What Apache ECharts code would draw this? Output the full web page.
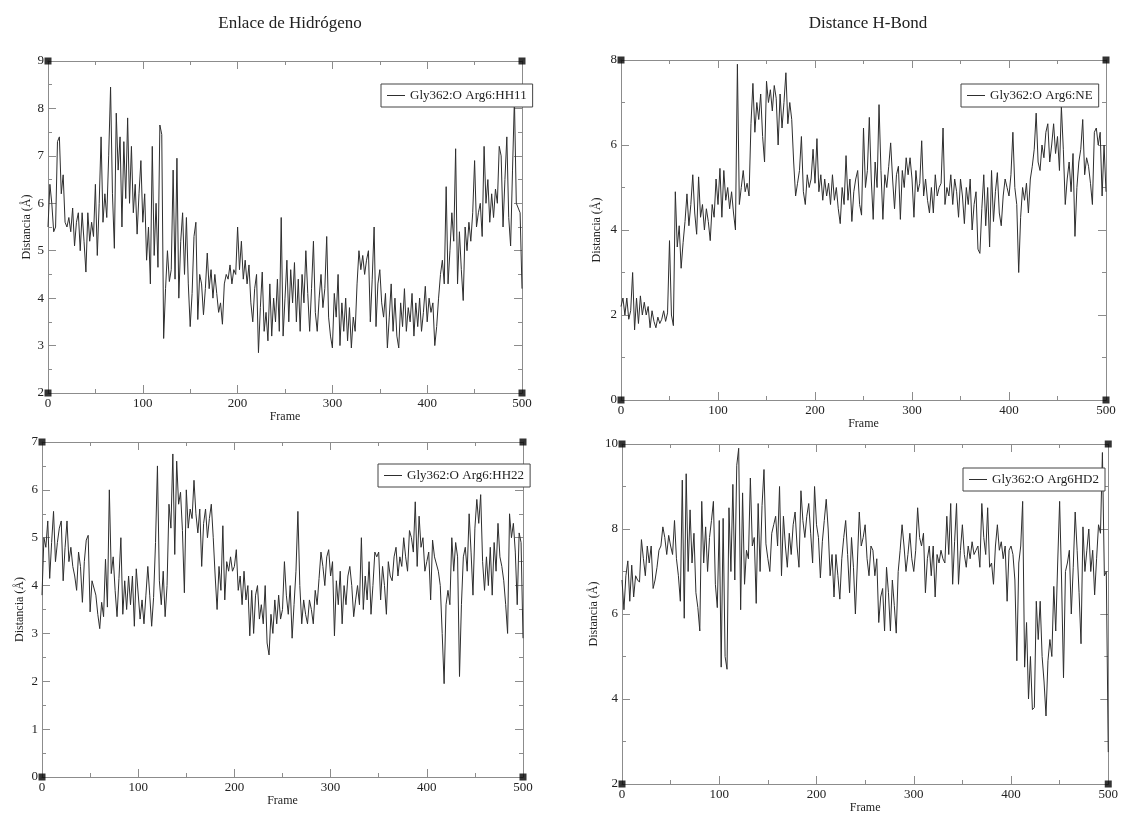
<!DOCTYPE html>
<html>
<head>
<meta charset="utf-8">
<script src="https://cdn.jsdelivr.net/npm/echarts@6/dist/echarts.min.js"></script>
<style>html,body{margin:0;padding:0;background:#fff}#c{width:1121px;height:815px}</style>
</head>
<body>
<div id="c"></div>
<script>
// ---- data (one value every 2 frames, frames 0..500) ----
const FRAME_STEP = 2;
const xTicks = [0, 100, 200, 300, 400, 500];

const hh11 = [
5.5,6.4,6.0,5.4,5.5, 7.3,7.4,6.2,6.6,5.6, 5.5,5.7,5.4,5.9,5.1, 5.6,5.8,5.0,5.8,5.2, 4.55,5.8,5.2,5.6,5.3,
6.4,4.9,6.0,7.4,5.6, 6.2,5.7,7.0,8.45,6.2, 5.05,7.9,6.7,7.4,5.5, 7.3,6.1,7.8,6.0,7.2, 5.8,6.4,5.35,6.2,6.9,
5.6,6.2,4.8,5.5,4.3, 7.2,4.9,6.0,4.65,7.65, 7.45,3.15,4.2,5.0,4.35, 4.6,6.7,4.4,6.95,4.0, 5.2,5.8,4.5,5.7,4.3,
3.4,4.1,5.3,5.6,3.55, 4.5,4.3,3.65,4.2,4.95, 4.2,4.6,4.0,4.5,4.1, 3.7,3.9,3.45,4.3,4.5, 4.4,4.7,4.3,4.6,4.5,
5.5,4.6,5.2,4.4,4.8, 4.3,4.7,3.9,3.5,4.2, 4.5,2.85,3.8,4.55,3.3, 3.7,3.1,4.3,3.2,4.0, 3.5,4.4,3.3,5.7,3.2,
4.0,4.8,3.5,4.6,3.9, 4.75,3.5,4.4,3.3,4.5, 3.9,5.0,4.1,3.3,4.2, 5.2,3.7,3.3,4.0,4.5, 3.8,4.2,5.3,3.6,3.2,
2.95,4.1,3.6,4.5,3.0, 3.9,3.3,4.0,3.1,3.8, 2.95,3.6,3.3,4.3,5.0, 4.6,4.9,4.5,4.8,5.0, 3.5,4.4,5.5,3.4,4.3,
4.6,3.9,3.6,4.1,2.95, 3.6,4.3,3.3,4.0,3.2, 2.95,3.9,3.4,4.2,3.3, 3.8,3.5,4.1,3.2,3.9, 3.4,4.0,3.3,3.7,4.25,
3.5,4.0,3.7,3.9,3.0, 3.4,4.0,4.5,4.8,4.3, 6.35,4.3,5.0,5.8,5.2, 7.15,4.3,5.4,4.6,3.95, 5.5,5.0,5.6,5.2,5.8,
6.9,5.5,5.8,6.0,5.3, 7.2,6.0,6.5,5.6,6.2, 5.7,6.3,6.0,7.2,7.0, 5.5,6.5,7.4,5.7,5.1, 6.7,8.2,6.0,5.9,5.8,
4.2];

const ne = [
2.2,2.4,2.0,2.4,1.9, 2.1,3.0,1.65,2.4,1.8, 2.45,2.0,2.3,2.0,2.2, 1.7,2.1,1.85,1.7,1.95, 1.8,1.9,2.1,1.85,2.05,
3.75,2.0,1.75,4.9,3.6, 4.1,3.1,3.7,4.2,4.85, 4.1,4.6,5.3,4.4,3.9, 5.25,4.3,4.6,4.0,4.5, 4.2,3.75,4.6,4.3,5.2,
4.6,5.45,4.3,5.4,4.7, 5.0,4.5,4.9,4.4,4.0, 7.9,4.6,5.0,5.4,4.9, 5.1,4.8,6.5,7.45,6.3, 7.0,6.6,7.2,6.2,5.6,
7.5,7.0,7.3,6.8,7.4, 7.1,6.0,7.2,6.4,7.0, 7.7,6.5,7.0,6.6,5.6, 4.8,5.1,5.4,6.2,4.9, 4.6,5.3,5.0,5.2,5.9,
5.1,6.15,4.9,5.3,4.7, 5.2,4.8,5.1,4.6,5.3, 4.7,5.0,4.5,4.15,5.0, 4.6,5.75,4.7,5.2,4.2, 4.9,5.2,5.4,4.6,4.35,
6.4,5.0,5.4,6.65,5.2, 4.25,5.6,5.0,6.95,5.4, 4.25,5.3,5.0,5.5,6.05, 5.2,4.5,5.3,5.5,4.25, 5.4,5.0,5.7,5.3,5.7,
5.2,4.3,5.4,4.9,5.1, 6.1,4.8,5.2,4.7,4.4, 5.0,4.4,5.3,4.8,5.0, 5.1,6.4,4.6,5.0,4.8, 5.3,4.6,5.2,4.9,4.3,
5.2,4.8,4.15,5.0,4.6, 5.2,4.0,4.6,4.9,3.55, 3.45,4.5,5.3,4.1,5.0, 3.6,5.4,4.2,4.9,5.35, 4.4,4.1,4.8,5.2,5.0,
4.8,5.3,6.3,5.0,4.6, 3.0,4.3,5.0,4.7,5.1, 4.4,5.2,5.5,5.9,6.75, 5.6,5.4,6.0,5.7,6.3, 6.5,5.6,6.0,6.5,5.8,
6.2,5.4,6.9,5.9,4.6, 5.2,5.6,4.9,5.8,3.85, 5.0,5.6,5.9,6.6,5.3, 5.7,5.5,5.1,4.6,6.3, 6.4,6.0,6.3,4.8,6.0,
4.9];

const hh22 = [
3.8,5.0,4.8,5.35,4.15, 4.9,5.55,4.5,4.9,5.2, 5.35,4.1,4.8,5.35,4.5, 4.8,4.4,4.2,3.9,4.7, 4.4,3.65,4.5,4.95,5.05,
3.45,4.1,4.1,3.8,3.4, 3.1,3.65,3.35,4.55,3.55, 6.0,4.25,4.6,3.9,3.35, 4.15,5.0,3.4,4.1,3.5, 4.2,3.6,4.2,3.15,4.35,
4.35,3.3,3.7,3.2,3.8, 4.4,3.8,3.15,3.75,4.9, 6.5,4.1,3.6,4.3,3.35, 4.0,5.7,5.2,6.75,4.65, 6.6,5.7,5.95,5.15,3.85,
6.0,5.2,5.6,5.4,6.2, 5.5,5.1,5.6,4.4,5.3, 5.6,5.0,5.4,5.7,5.0, 4.2,3.5,4.4,3.9,5.25, 3.7,4.5,4.3,4.6,4.3,
4.4,4.75,3.9,4.2,3.6, 4.3,3.7,4.0,2.95,3.9, 3.0,3.8,4.0,3.3,3.6, 3.2,4.0,2.8,2.55,3.4, 3.0,3.7,3.2,3.8,3.3,
3.5,4.5,3.8,3.4,4.0, 2.9,3.6,4.3,5.55,4.0, 3.2,3.7,3.4,3.2,3.7, 3.5,3.2,3.9,3.6,4.15, 4.7,4.4,4.0,4.6,4.75,
4.2,4.5,2.95,4.1,3.6, 4.3,3.2,4.0,3.6,4.2, 4.4,4.0,3.35,3.7,4.0, 3.6,5.0,3.5,4.2,3.7, 4.5,3.4,4.0,4.7,4.6,
4.7,3.7,4.4,4.0,3.4, 4.5,4.2,4.1,4.6,4.8, 4.2,4.6,4.4,5.0,4.6, 4.3,5.15,5.0,4.7,5.75, 4.4,5.45,4.8,5.0,4.3,
4.5,4.7,3.7,4.95,4.6, 4.6,4.3,4.0,3.0,1.95, 3.6,3.9,3.6,5.0,4.3, 4.9,4.6,2.1,3.6,4.6, 4.8,4.3,5.5,4.7,3.8,
5.2,5.8,5.3,5.9,4.5, 3.9,4.6,4.0,4.8,3.8, 4.9,4.3,5.3,4.6,4.4, 4.1,3.6,3.0,5.5,5.0, 5.3,4.7,3.6,5.1,4.9,
2.9];

const hd2 = [
6.8,6.1,6.9,7.25,6.3, 7.15,6.4,6.9,6.8,6.75, 7.75,7.3,6.9,7.6,7.2, 7.6,6.6,6.8,7.1,7.5, 7.6,8.05,7.8,7.4,7.85,
7.6,7.4,8.2,7.3,6.9, 6.3,9.15,5.9,9.3,7.0, 8.45,7.2,7.9,6.5,6.15, 5.6,8.65,7.2,8.05,7.0, 7.8,8.2,8.65,6.7,6.15,
8.2,4.75,8.25,5.0,4.7, 8.5,7.0,9.05,6.8,9.5, 9.9,6.1,8.85,6.7,7.5, 7.3,9.2,7.6,7.8,6.25, 8.6,7.0,8.55,9.4,7.65,
7.3,7.0,7.9,8.1,8.3, 7.6,9.0,6.9,8.3,7.6, 7.1,7.9,7.4,8.1,8.4, 7.6,7.1,8.9,8.2,7.8, 8.3,8.6,7.9,7.2,9.0,
8.1,7.8,6.85,7.7,8.2, 8.7,8.0,6.9,7.4,6.4, 7.4,6.9,6.35,7.3,7.8, 8.2,7.4,6.5,7.8,7.1, 6.0,7.2,8.4,7.6,7.8,
8.1,7.3,6.9,7.6,7.5, 6.9,7.3,5.8,6.4,6.6, 5.6,7.1,6.5,5.6,6.8, 6.2,5.55,7.0,7.5,8.1, 7.6,7.0,7.4,7.9,7.3,
7.0,7.5,8.5,7.8,7.6, 7.9,6.5,7.3,7.6,6.9, 7.6,6.4,7.4,7.2,7.5, 7.3,7.2,8.3,7.4,8.6, 6.7,7.7,8.6,6.7,7.5,
8.1,7.4,7.1,7.6,7.3, 7.7,7.4,7.5,7.6,7.1, 8.6,7.8,7.4,8.5,7.1, 7.2,6.7,7.6,8.1,7.5, 7.7,7.3,7.6,6.3,7.5,
7.6,7.4,6.8,4.9,7.2, 7.6,8.65,4.75,5.8,4.0, 5.0,3.75,3.8,6.3,5.4, 6.3,5.0,4.4,3.6,4.9, 5.4,5.0,6.65,5.6,7.2,
8.65,6.8,4.5,7.0,7.2, 7.5,6.0,7.1,8.4,7.5, 6.5,5.3,8.05,7.0,7.5, 8.0,7.0,7.5,6.45,7.3, 8.1,7.9,9.8,6.9,7.0,
2.75];

const seriesNames = ['Gly362:O Arg6:HH11', 'Gly362:O Arg6:NE', 'Gly362:O Arg6:HH22', 'Gly362:O Arg6HD2'];
const seriesValues = [hh11, ne, hh22, hd2];
const yMins = [2, 0, 0, 2];
const yMaxs = [9, 8, 7, 10];
const yIntervals = [1, 2, 1, 2];
const titles = ['Enlace de Hidrógeno', 'Distance H-Bond'];
const yName = 'Distancia (Å)';
const xName = 'Frame';

// ---- layout / style ----
const FONT = 'Liberation Serif';
const grids = [
  {left: 48, top: 61, width: 474, height: 332},
  {left: 621, top: 60, width: 485, height: 340},
  {left: 42, top: 442, width: 481, height: 335},
  {left: 622, top: 444, width: 487, height: 340}
];
const yNameGaps = [15, 18, 16, 22];
const legendPos = [[381, 84], [961, 84], [378, 464], [963, 468]];
const AX = '#8c8c8c';
const LINE = '#2e2e2e';

const xAxes = [], yAxes = [], series = [], legends = [];
grids.forEach((g, i) => {
  const common = {
    gridIndex: i, type: 'value', splitLine: {show: false},
    axisLine: {onZero: false, lineStyle: {color: AX, width: 1}},
    axisTick: {inside: true, length: 8, lineStyle: {color: AX}},
    minorTick: {show: true, splitNumber: 2, length: 4, lineStyle: {color: AX}}
  };
  const lbl = {fontFamily: FONT, fontSize: 13, color: '#222', margin: 4, showMaxLabel: true, showMinLabel: true};
  const xmn = xTicks[0], xmx = xTicks[xTicks.length - 1];
  xAxes.push(Object.assign({}, common, {
    position: 'bottom', min: xmn, max: xmx, interval: xTicks[1] - xTicks[0],
    axisLabel: lbl, name: xName, nameLocation: 'middle', nameGap: 17,
    nameTextStyle: {fontFamily: FONT, fontSize: 12, color: '#222'}
  }));
  xAxes.push(Object.assign({}, common, {
    position: 'top', min: xmn, max: xmx, interval: xTicks[1] - xTicks[0],
    axisLabel: {show: false}
  }));
  yAxes.push(Object.assign({}, common, {
    position: 'left', min: yMins[i], max: yMaxs[i], interval: yIntervals[i],
    axisLabel: lbl, name: yName, nameLocation: 'middle', nameGap: yNameGaps[i],
    nameTextStyle: {fontFamily: FONT, fontSize: 12, color: '#222'}
  }));
  yAxes.push(Object.assign({}, common, {
    position: 'right', min: yMins[i], max: yMaxs[i], interval: yIntervals[i],
    axisLabel: {show: false}
  }));
  series.push({
    name: seriesNames[i], type: 'line', xAxisIndex: 2 * i, yAxisIndex: 2 * i,
    data: seriesValues[i].map((v, k) => [k * FRAME_STEP, v]),
    symbol: 'none', showSymbol: false, animation: false,
    lineStyle: {color: LINE, width: 1}, itemStyle: {color: LINE}
  });
  series.push({
    type: 'scatter', xAxisIndex: 2 * i, yAxisIndex: 2 * i, silent: true, clip: false,
    symbol: 'rect', symbolSize: 7, itemStyle: {color: '#000'}, z: 5, animation: false,
    data: [[xmn, yMins[i]], [xmn, yMaxs[i]], [xmx, yMins[i]], [xmx, yMaxs[i]]]
  });
  legends.push({
    data: [{name: seriesNames[i], icon: 'rect'}], left: legendPos[i][0], top: legendPos[i][1],
    orient: 'vertical', padding: [4, 6, 4, 6], itemWidth: 18, itemHeight: 1, itemGap: 0,
    borderColor: '#444', borderWidth: 1, backgroundColor: '#fff',
    itemStyle: {color: LINE}, lineStyle: {width: 0},
    textStyle: {fontFamily: FONT, fontSize: 13, color: '#222', lineHeight: 15}, selectedMode: false
  });
});

const chart = echarts.init(document.getElementById('c'), null, {renderer: 'canvas'});
chart.setOption({
  animation: false,
  backgroundColor: '#fff',
  title: [
    {text: titles[0], left: 285, top: 10, textAlign: 'center', textStyle: {fontFamily: FONT, fontSize: 17, fontWeight: 'normal', color: '#222'}},
    {text: titles[1], left: 863, top: 10, textAlign: 'center', textStyle: {fontFamily: FONT, fontSize: 17, fontWeight: 'normal', color: '#222'}}
  ],
  grid: grids,
  xAxis: xAxes,
  yAxis: yAxes,
  legend: legends,
  series: series
});
</script>
</body>
</html>
